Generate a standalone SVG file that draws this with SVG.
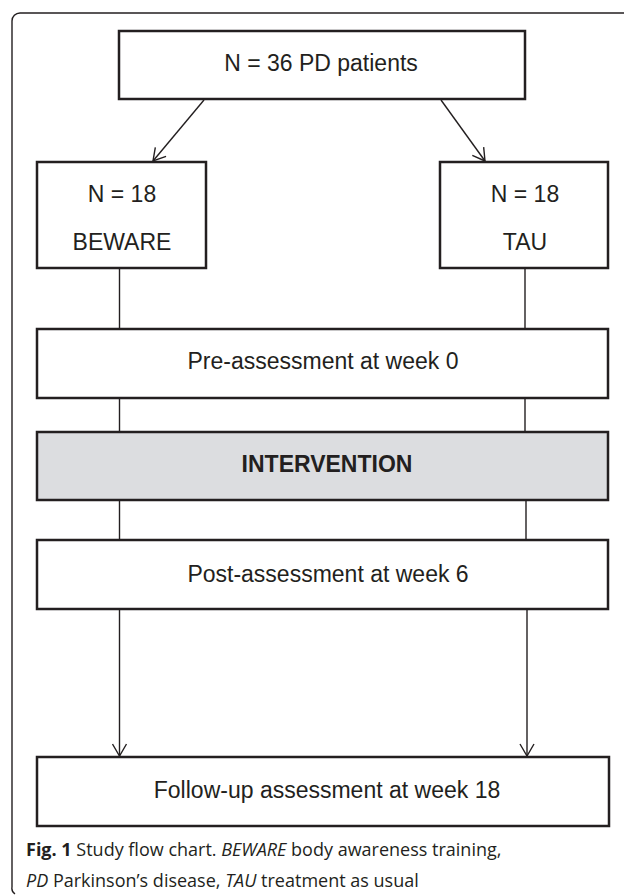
<svg xmlns="http://www.w3.org/2000/svg" width="624" height="895" viewBox="0 0 624 895">
<style>
.box{fill:#fff;stroke:#231f20;stroke-width:2.5}
.grey{fill:#dcdde0;stroke:#231f20;stroke-width:2.5}
.t{font-family:"Liberation Sans",Arial,sans-serif;font-size:23px;fill:#231f20;text-anchor:middle}
.b{font-weight:bold}
.c{fill:none;stroke:#231f20;stroke-width:1.4}
.cap{font-family:"Open Sans","Noto Sans",sans-serif;font-size:18px;fill:#231f20}
</style>
<defs>
<marker id="ah" viewBox="0 0 14 16" refX="13" refY="8" markerWidth="14" markerHeight="16" markerUnits="userSpaceOnUse" orient="auto">
<path d="M1,1 L13,8 L1,15" fill="none" stroke="#231f20" stroke-width="1.4"/>
</marker>
</defs>
<rect width="624" height="895" fill="#fff"/>
<path d="M624,13 H20 A8,8 0 0 0 12,21 V887 A7,7 0 0 0 15,894" fill="none" stroke="#231f20" stroke-width="1.4"/>
<g id="connectors">
<line class="c" x1="204" y1="100" x2="153" y2="161" marker-end="url(#ah)"/>
<line class="c" x1="441" y1="100" x2="485" y2="161" marker-end="url(#ah)"/>
<line class="c" x1="119.5" y1="268" x2="119.5" y2="329"/>
<line class="c" x1="525" y1="268" x2="525" y2="329"/>
<line class="c" x1="119.5" y1="398" x2="119.5" y2="432"/>
<line class="c" x1="525" y1="398" x2="525" y2="432"/>
<line class="c" x1="119.5" y1="500" x2="119.5" y2="540"/>
<line class="c" x1="526" y1="500" x2="526" y2="540"/>
<line class="c" x1="119.5" y1="609" x2="119.5" y2="756" marker-end="url(#ah)"/>
<line class="c" x1="527" y1="609" x2="527" y2="756" marker-end="url(#ah)"/>
</g>
<g id="n_total">
<rect class="box" x="119" y="31" width="406" height="68"/>
<text class="t" x="321" y="71">N = 36 PD patients</text>
</g>
<g id="n_beware">
<rect class="box" x="37" y="162" width="169" height="106"/>
<text class="t" x="122" y="202">N = 18</text>
<text class="t" x="122" y="250">BEWARE</text>
</g>
<g id="n_tau">
<rect class="box" x="440" y="162" width="168" height="106"/>
<text class="t" x="525" y="202">N = 18</text>
<text class="t" x="525" y="250">TAU</text>
</g>
<g id="n_pre">
<rect class="box" x="37" y="329" width="571" height="69"/>
<text class="t" x="323" y="369">Pre-assessment at week 0</text>
</g>
<g id="n_intervention">
<rect class="grey" x="37" y="432" width="571" height="68"/>
<text class="t b" x="327" y="472">INTERVENTION</text>
</g>
<g id="n_post">
<rect class="box" x="37" y="540" width="571" height="69"/>
<text class="t" x="328" y="582">Post-assessment at week 6</text>
</g>
<g id="n_follow">
<rect class="box" x="37" y="757" width="572" height="69"/>
<text class="t" x="327" y="798">Follow-up assessment at week 18</text>
</g>
<g id="caption">
<text class="cap" x="26" y="856"><tspan font-weight="bold">Fig. 1</tspan> Study flow chart. <tspan font-style="italic">BEWARE</tspan> body awareness training,</text>
<text class="cap" x="26" y="887"><tspan font-style="italic">PD</tspan> Parkinson’s disease, <tspan font-style="italic">TAU</tspan> treatment as usual</text>
</g>
</svg>
